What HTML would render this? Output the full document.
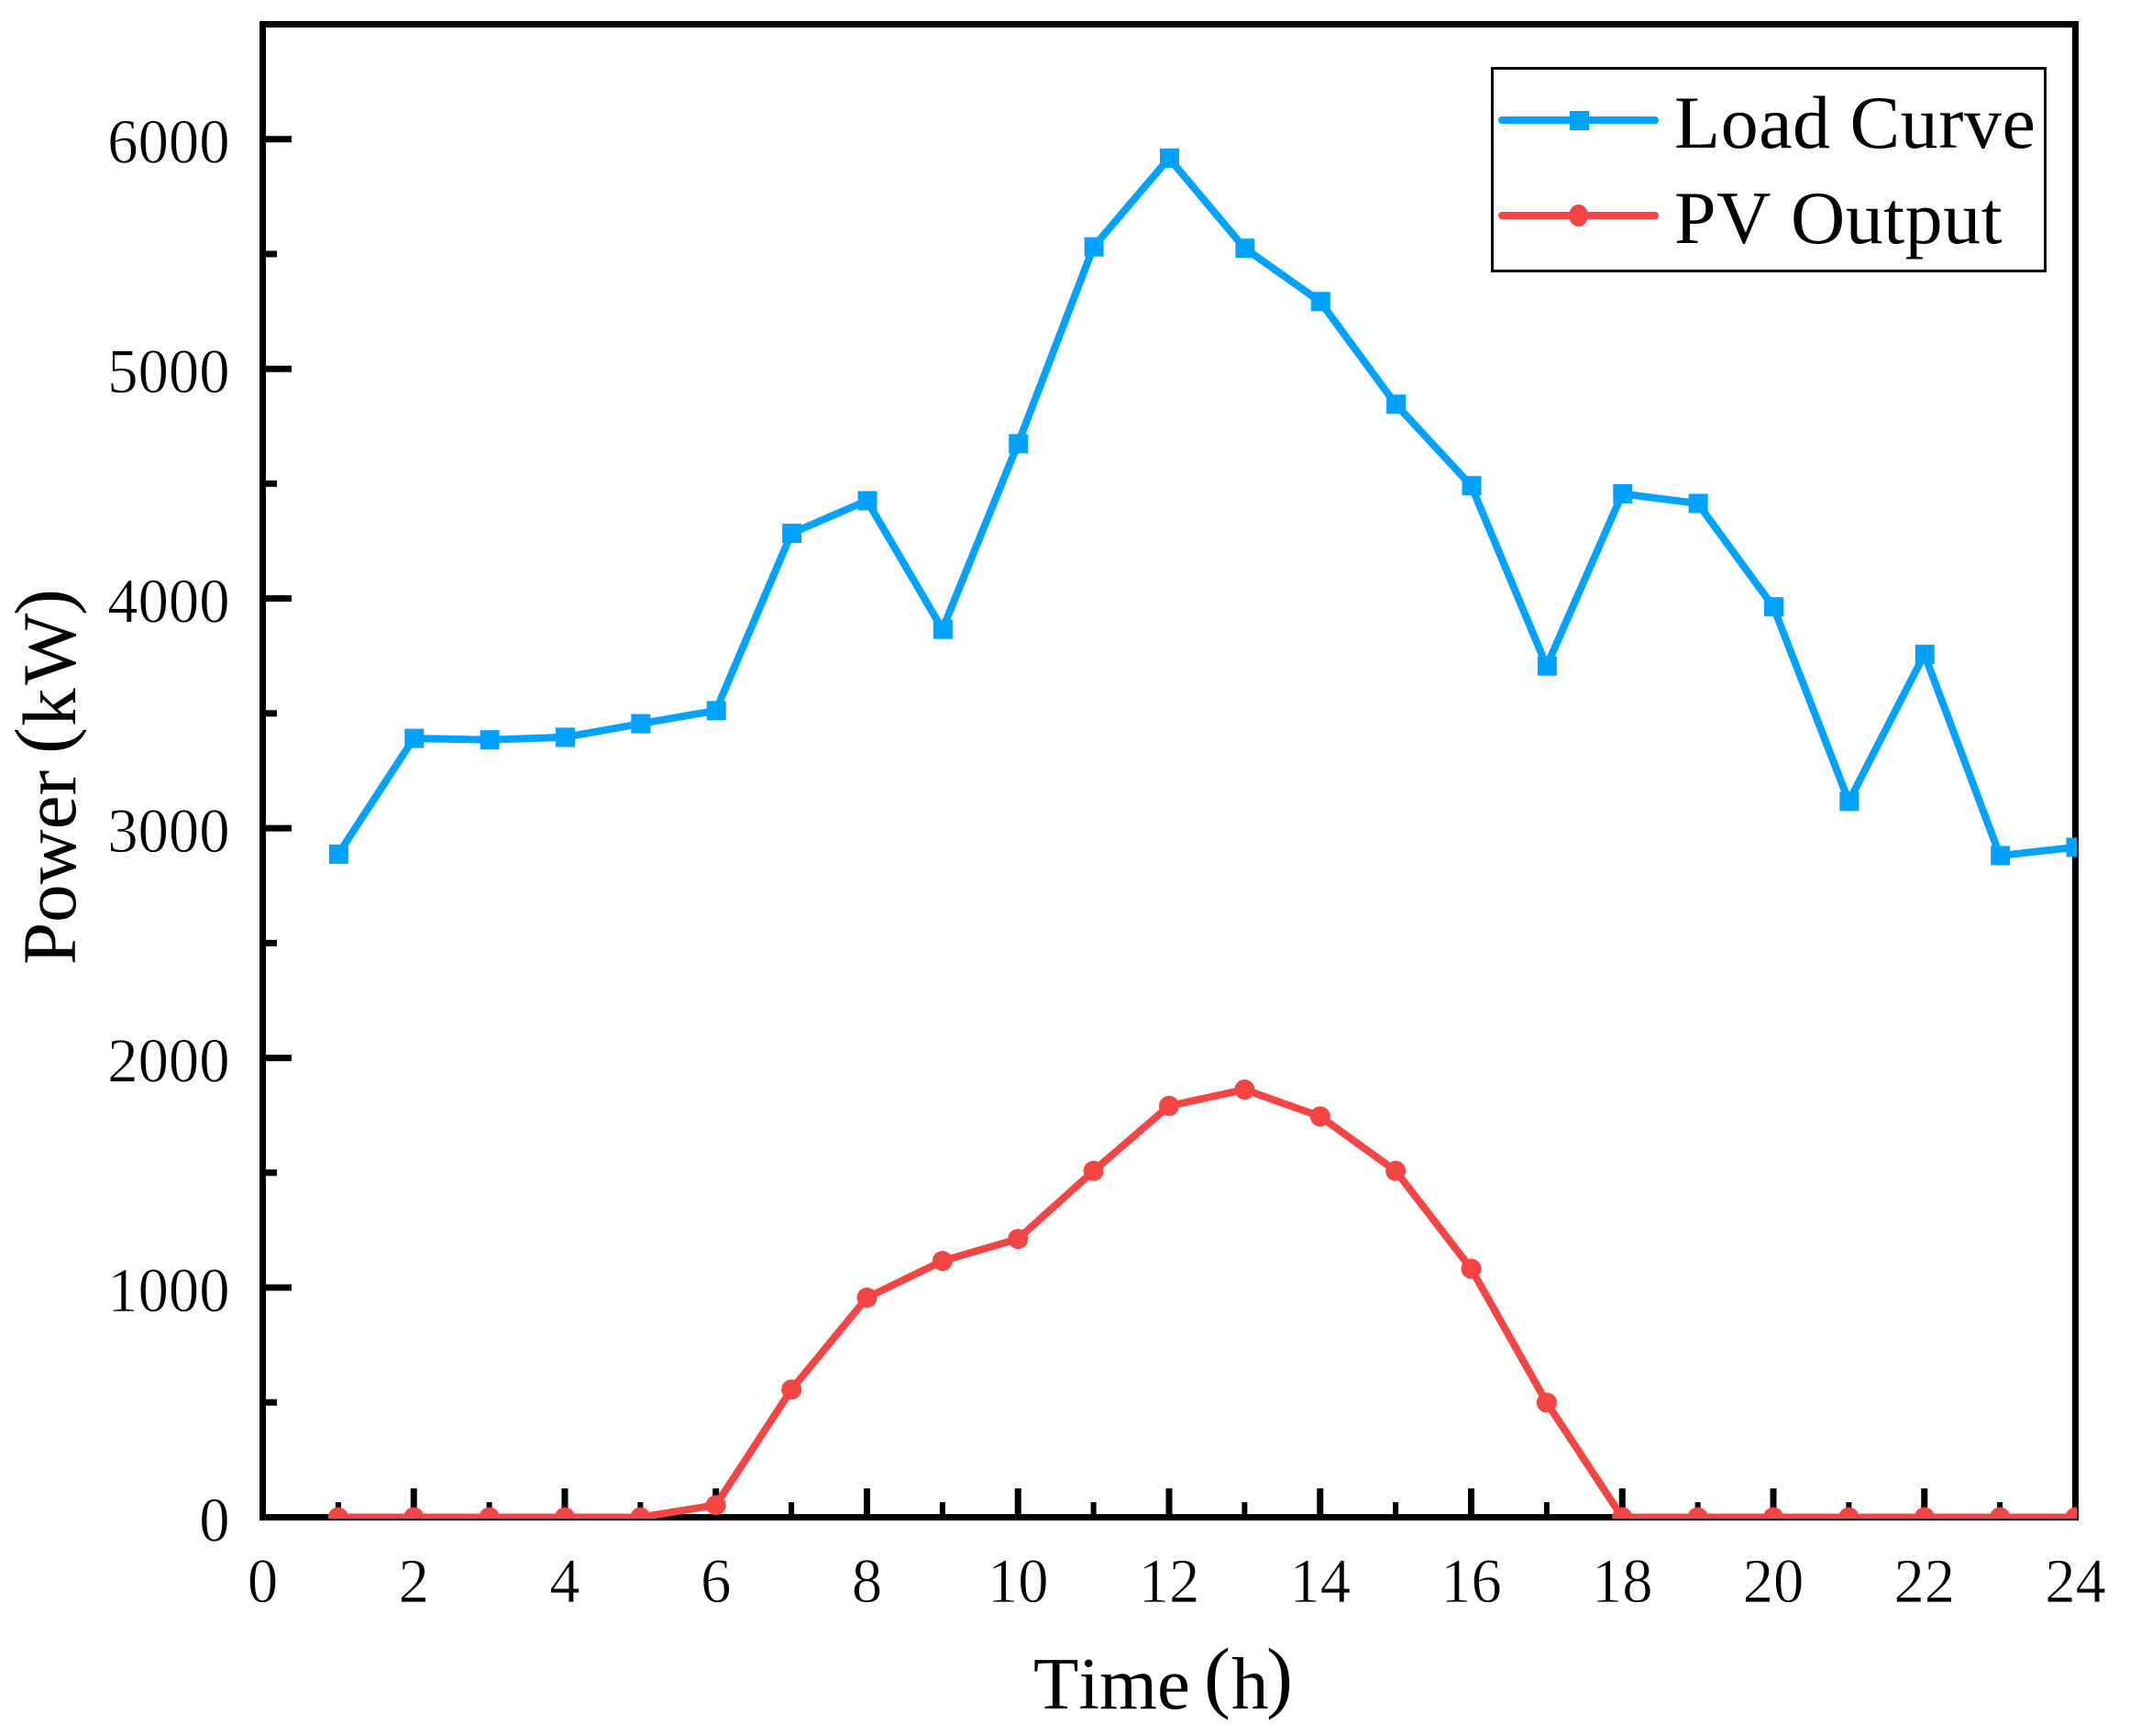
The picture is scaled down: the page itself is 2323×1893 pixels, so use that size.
<!DOCTYPE html>
<html lang="en">
<head>
<meta charset="utf-8">
<title>Load Curve and PV Output</title>
<style>
html,body{margin:0;padding:0;background:#fff;}
svg{display:block;}
text{font-family:"Liberation Serif","Noto Serif CJK SC",serif;fill:#000;font-kerning:none;}
.tick-text{stroke:#fff;stroke-width:0.7px;}
</style>
</head>
<body>
<svg id="chart" xmlns="http://www.w3.org/2000/svg" width="2323" height="1893" viewBox="0 0 2323 1893">
  <defs>
    <clipPath id="plot-clip"><rect x="283" y="23" width="1982" height="1633"/></clipPath>
  </defs>
  <rect x="0" y="0" width="2323" height="1893" fill="#fff"/>
  <g id="ticks"></g>
  <rect x="286.5" y="26.5" width="1977" height="1628" fill="none" stroke="#000" stroke-width="7"/>
  <g id="tick-labels"></g>
  <g id="series" clip-path="url(#plot-clip)"></g>

  <text y="1863" font-size="81">
    <tspan x="1127">Time</tspan><tspan x="1313" y="1857" font-size="87">(</tspan><tspan x="1343" y="1863">h</tspan><tspan x="1381" y="1857" font-size="87">)</tspan>
  </text>
  <g transform="translate(82,1052) rotate(-90)">
    <text y="0" font-size="83"><tspan x="0">Power</tspan><tspan x="230" y="-6" font-size="87">(</tspan><tspan x="260" y="0">k</tspan><tspan x="305" y="0">W</tspan><tspan x="381" y="-6" font-size="87">)</tspan></text>
  </g>

  <g>
    <rect x="1627.5" y="74.5" width="603" height="221" fill="#fff" stroke="#000" stroke-width="3"/>
    <g>
      <line x1="1638" y1="131" x2="1805" y2="131" stroke="#00A2FF" stroke-width="8" stroke-linecap="round"/>
      <rect x="1712" y="121" width="21" height="21" fill="#00A2FF"/>
      <text x="1826" y="161" font-size="82" letter-spacing="0.5">Load Curve</text>
    </g>
    <g>
      <line x1="1638" y1="235" x2="1805" y2="235" stroke="#F44444" stroke-width="8" stroke-linecap="round"/>
      <ellipse cx="1721.5" cy="235" rx="10.5" ry="12" fill="#F44444"/>
      <text x="1826" y="265" font-size="82" letter-spacing="0.55">PV Output</text>
    </g>
  </g>
</svg>
<script>
var hours = [1,2,3,4,5,6,7,8,9,10,11,12,13,14,15,16,17,18,19,20,21,22,23,24];
var loadCurve = [2887,3391,3385,3396,3455,3512,4284,4426,3866,4674,5531,5917,5525,5293,4846,4491,3706,4456,4414,3964,3117,3757,2881,2917];
var pvOutput = [0,0,0,0,0,53,556,956,1116,1212,1508,1791,1862,1745,1508,1082,499,0,0,0,0,0,0,0];
var xTickLabels = ['0','2','4','6','8','10','12','14','16','18','20','22','24'];
var yTickLabels = ['0','1000','2000','3000','4000','5000','6000'];
var xMinorTicks = [1,3,5,7,9,11,13,15,17,19,21,23];
var yMinorTicks = [500,1500,2500,3500,4500,5500];

var BLUE = '#00A2FF', RED = '#F44444';
var NS = 'http://www.w3.org/2000/svg';
function xScale(v){ return 286.5 + v * (2263.5 - 286.5) / 24; }
function yScale(v){ return 1654.5 - v * (1654.5 - 26.5) / 6500; }
function mk(tag, attrs, parent){
  var el = document.createElementNS(NS, tag);
  for (var k in attrs) el.setAttribute(k, attrs[k]);
  parent.appendChild(el);
  return el;
}
var ticks = document.getElementById('ticks');
var labels = document.getElementById('tick-labels');
var series = document.getElementById('series');

xTickLabels.forEach(function(t){
  var x = xScale(+t);
  var tick = mk('line', {x1:x, x2:x, y1:1658, y2:1623, stroke:'#000', 'stroke-width':7}, ticks);
  
  
  var lab = mk('text', {x:x, y:1747, 'font-size':69, 'text-anchor':'middle', 'class':'tick-text', textLength:t.length * 33.3, lengthAdjust:'spacingAndGlyphs'}, labels);
  lab.textContent = t;
  
  
});
xMinorTicks.forEach(function(t){
  var x = xScale(t);
  var tick = mk('line', {x1:x, x2:x, y1:1658, y2:1638, stroke:'#000', 'stroke-width':6}, ticks);
  
  
});
yTickLabels.forEach(function(t){
  var y = yScale(+t);
  var tick = mk('line', {x1:283, x2:318, y1:y, y2:y, stroke:'#000', 'stroke-width':7}, ticks);
  
  
  var lab = mk('text', {x:250.5, y:y + 26, 'font-size':69, 'text-anchor':'end', 'class':'tick-text', textLength:t.length * 33.3, lengthAdjust:'spacingAndGlyphs'}, labels);
  lab.textContent = t;
  
  
});
yMinorTicks.forEach(function(t){
  var y = yScale(t);
  var tick = mk('line', {x1:283, x2:302, y1:y, y2:y, stroke:'#000', 'stroke-width':7}, ticks);
  
  
});

function pointsOf(vals){
  return vals.map(function(v, i){ return xScale(hours[i]) + ',' + yScale(v); }).join(' ');
}
var loadLine = mk('polyline', {points:pointsOf(loadCurve), fill:'none', stroke:BLUE, 'stroke-width':8, 'stroke-linejoin':'round'}, series);


loadCurve.forEach(function(v, i){
  var m = mk('rect', {x:xScale(hours[i]) - 10, y:yScale(v) - 10.5, width:21, height:21, fill:BLUE}, series);
  
  
});
var pvLine = mk('polyline', {points:pointsOf(pvOutput), fill:'none', stroke:RED, 'stroke-width':8, 'stroke-linejoin':'round'}, series);


pvOutput.forEach(function(v, i){
  var m = mk('circle', {cx:xScale(hours[i]), cy:yScale(v), r:11, fill:RED}, series);
  
  
});
</script>
</body>
</html>
